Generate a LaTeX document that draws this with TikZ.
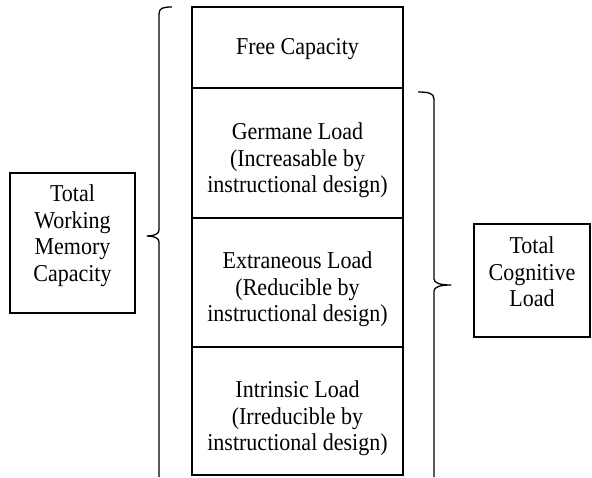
\documentclass[tikz,border=0pt]{standalone}
\usepackage{fontspec}
\usepackage{graphicx}
\setmainfont{Liberation Serif}
\newcommand{\mltext}[2]{\scalebox{1}[1.1]{\fontsize{22}{#1}\selectfont\begin{tabular}{@{}c@{}}#2\end{tabular}}}
\begin{document}
\begin{tikzpicture}[x=1pt,y=-1pt,
  cell/.style={draw, line width=1.6pt, minimum width=211pt, inner sep=0pt},
  txt/.style={inner sep=0pt},
  sidebox/.style={draw, line width=1.8pt, inner sep=0pt},
  brace/.style={line width=1.3pt, line join=round}]
\useasboundingbox (0,0) rectangle (592,477);
% column cells
\node[cell, minimum height=81pt] (free) at (297.5,47.5) {};
\node[cell, minimum height=130pt] (germ) at (297.5,153) {};
\node[cell, minimum height=129pt] (extr) at (297.5,282.5) {};
\node[cell, minimum height=128pt] (intr) at (297.5,411) {};
\node[txt] (tfree) at (297.5,49) {\mltext{24}{Free Capacity}};
\node[txt] (tgerm) at (297.5,161) {\mltext{24}{Germane Load\\(Increasable by\\instructional design)}};
\node[txt] (textr) at (297.5,290) {\mltext{24}{Extraneous Load\\(Reducible by\\instructional design)}};
\node[txt] (tintr) at (297.5,419) {\mltext{24}{Intrinsic Load\\(Irreducible by\\instructional design)}};
% side boxes
\node[sidebox, minimum width=125pt, minimum height=140pt] (wm) at (72.5,243) {};
\node[txt] (twm) at (72.5,236) {\mltext{24.2}{Total\\Working\\Memory\\Capacity}};
\node[sidebox, minimum width=116pt, minimum height=113pt] (cl) at (532,280.5) {};
\node[txt] (tcl) at (532,275) {\mltext{24.2}{Total\\Cognitive\\Load}};
% braces
\coordinate (lb1) at (172,7);
\coordinate (lbtip) at (147,236);
\coordinate (lbend) at (159,477);
\draw[brace] (lb1) .. controls (163,7) and (159,8) .. (159,14) -- (159,230)
  .. controls (159,234) and (154,236) .. (lbtip)
  .. controls (154,236) and (159,238) .. (159,242) -- (lbend);
\coordinate (rb1) at (418,92);
\coordinate (rbtip) at (451,285);
\coordinate (rbend) at (434,477);
\draw[brace] (rb1) .. controls (428,92) and (434,93) .. (434,99) -- (434,279)
  .. controls (434,283) and (440,285) .. (rbtip)
  .. controls (440,285) and (434,287) .. (434,291) -- (rbend);
\end{tikzpicture}
\end{document}
